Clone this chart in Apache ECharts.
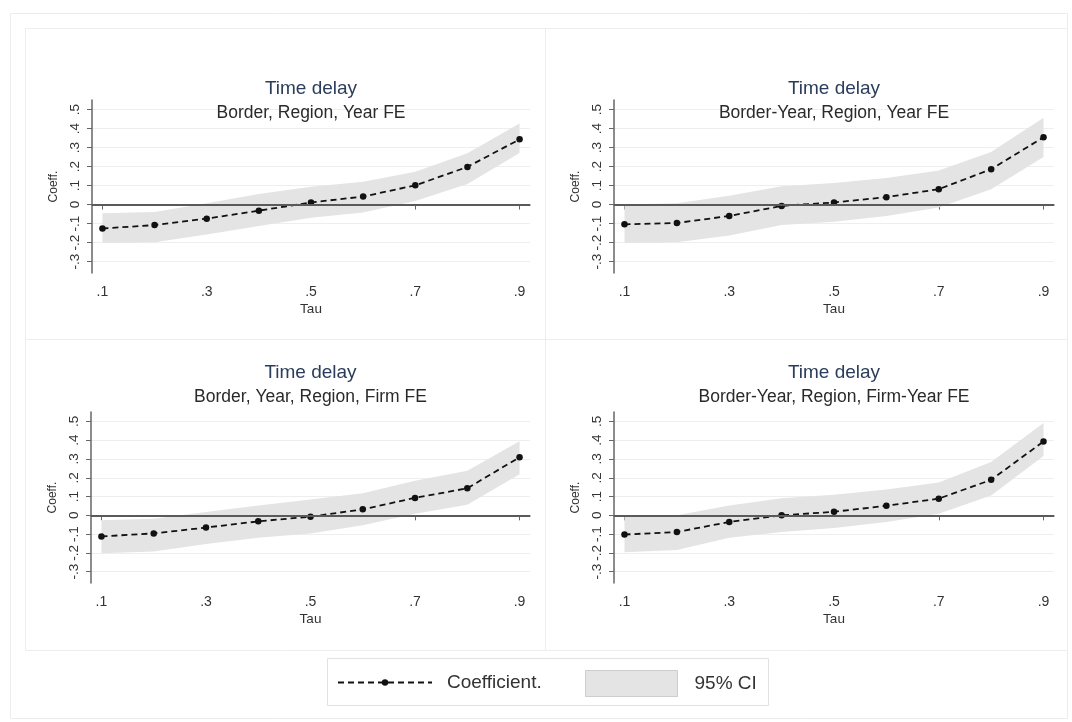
<!DOCTYPE html>
<html>
<head>
<meta charset="utf-8">
<script src="https://cdn.jsdelivr.net/npm/echarts@6/dist/echarts.min.js"></script>
<style>
  html, body { margin: 0; padding: 0; background: #fff; }
  #main { width: 1072px; height: 722px; }
</style>
</head>
<body>
<div id="main"></div>
<script>
// quantiles
var tau = [0.1, 0.2, 0.3, 0.4, 0.5, 0.6, 0.7, 0.8, 0.9];
var xTicks = [0.1, 0.3, 0.5, 0.7, 0.9];
var yTicks = [-0.3, -0.2, -0.1, 0, 0.1, 0.2, 0.3, 0.4, 0.5];

var titles = ['Time delay', 'Time delay', 'Time delay', 'Time delay'];
var subtitles = [
  'Border, Region, Year FE',
  'Border-Year, Region, Year FE',
  'Border, Year, Region, Firm FE',
  'Border-Year, Region, Firm-Year FE'
];

// coefficients and 95% CI per panel
var coef1 = [-0.126, -0.108, -0.074, -0.032, 0.011, 0.042, 0.101, 0.198, 0.343];
var lo1 = [-0.202, -0.198, -0.158, -0.113, -0.069, -0.042, 0.019, 0.108, 0.271];
var hi1 = [-0.046, -0.039, 0.007, 0.055, 0.094, 0.120, 0.173, 0.270, 0.427];

var coef2 = [-0.104, -0.097, -0.060, -0.007, 0.011, 0.039, 0.081, 0.186, 0.354];
var lo2 = [-0.202, -0.198, -0.163, -0.108, -0.090, -0.060, -0.016, 0.081, 0.250];
var hi2 = [0.000, 0.007, 0.046, 0.096, 0.113, 0.140, 0.179, 0.276, 0.457];

var coef3 = [-0.112, -0.096, -0.065, -0.032, -0.007, 0.032, 0.093, 0.144, 0.309];
var lo3 = [-0.202, -0.193, -0.153, -0.119, -0.096, -0.053, 0.009, 0.056, 0.219];
var hi3 = [-0.026, -0.018, 0.018, 0.053, 0.084, 0.118, 0.184, 0.237, 0.395];

var coef4 = [-0.102, -0.089, -0.035, 0.000, 0.019, 0.051, 0.089, 0.189, 0.393];
var lo4 = [-0.196, -0.184, -0.119, -0.088, -0.067, -0.035, 0.009, 0.105, 0.316];
var hi4 = [-0.009, 0.000, 0.053, 0.091, 0.109, 0.137, 0.175, 0.284, 0.491];

var coefs = [coef1, coef2, coef3, coef4];
var lows = [lo1, lo2, lo3, lo4];
var highs = [hi1, hi2, hi3, hi4];

var FONT = 'Liberation Sans, Arial, sans-serif';
var BAND = '#e4e4e4';

// panel layout
var grids = [
  { left: 92, top: 100, width: 438, height: 173 },
  { left: 614, top: 100, width: 440, height: 173 },
  { left: 91, top: 412, width: 439, height: 171 },
  { left: 614, top: 412, width: 440, height: 171 }
];
var titleTops = [79, 79, 363, 363];

function fmt(v) {
  if (v === 0) return '0';
  return String(Math.round(v * 10) / 10).replace('0.', '.');
}

// CI band drawn as one polygon through the axis scales
function renderBand(params, api) {
  if (params.dataIndexInside !== 0) return null;
  var n = params.dataInsideLength;
  var upper = [], lower = [];
  for (var j = 0; j < n; j++) {
    upper.push(api.coord([api.value(0, j), api.value(2, j)]));
    lower.push(api.coord([api.value(0, j), api.value(1, j)]));
  }
  return {
    type: 'polygon',
    shape: { points: upper.concat(lower.reverse()) },
    style: { fill: BAND, stroke: null }
  };
}

var chart = echarts.init(document.getElementById('main'));

var title = [], xAxis = [], yAxis = [], series = [];
for (var i = 0; i < 4; i++) {
  var g = grids[i];
  title.push({
    text: titles[i],
    subtext: subtitles[i],
    left: g.left + g.width / 2,
    top: titleTops[i],
    textAlign: 'center',
    itemGap: 6,
    padding: 0,
    textStyle: { fontFamily: FONT, fontSize: 19, fontWeight: 'normal', color: '#2b3d5a' },
    subtextStyle: { fontFamily: FONT, fontSize: 17.5, color: '#2a2a2a' }
  });
  xAxis.push({
    type: 'value',
    gridIndex: i,
    min: 0.08,
    max: 0.92,
    name: 'Tau',
    nameLocation: 'middle',
    nameGap: 29,
    nameTextStyle: { fontFamily: FONT, fontSize: 13.5, color: '#333' },
    axisLine: { show: true, lineStyle: { color: '#666', width: 1.5 } },
    axisTick: { show: true, length: 5, customValues: xTicks, lineStyle: { color: '#666' } },
    axisLabel: { customValues: xTicks, formatter: fmt, margin: 12, fontFamily: FONT, fontSize: 14, color: '#333' },
    splitLine: { show: false }
  });
  yAxis.push({
    type: 'value',
    gridIndex: i,
    min: -0.36,
    max: 0.55,
    name: 'Coeff.',
    nameLocation: 'middle',
    nameRotate: 90,
    nameGap: 32,
    nameTextStyle: { fontFamily: FONT, fontSize: 12, color: '#333' },
    axisLine: { show: true, lineStyle: { color: '#666', width: 1.5 } },
    axisTick: { show: true, length: 5, customValues: yTicks, lineStyle: { color: '#666' } },
    axisLabel: { customValues: yTicks, formatter: fmt, rotate: 90, margin: 10, fontFamily: FONT, fontSize: 13.5, color: '#333' },
    splitLine: { show: true, lineStyle: { color: '#eeeeee', width: 1 } }
  });

  var band = [], pts = [];
  for (var k = 0; k < tau.length; k++) {
    band.push([tau[k], lows[i][k], highs[i][k]]);
    pts.push([tau[k], coefs[i][k]]);
  }
  series.push({
    name: '95% CI',
    type: 'custom',
    xAxisIndex: i, yAxisIndex: i,
    renderItem: renderBand,
    encode: { x: 0, y: [1, 2] },
    data: band,
    silent: true,
    itemStyle: { color: BAND },
    z: 1
  });
  series.push({
    name: 'Coefficient.',
    type: 'line',
    xAxisIndex: i, yAxisIndex: i,
    data: pts,
    symbol: 'circle',
    symbolSize: 6.5,
    itemStyle: { color: '#111' },
    lineStyle: { color: '#111', width: 1.8, type: [6, 4] },
    markLine: {
      silent: true,
      symbol: 'none',
      label: { show: false },
      lineStyle: { color: '#5a5a5a', width: 2, type: 'solid' },
      data: [{ yAxis: 0 }]
    },
    z: 3
  });
}

chart.setOption({
  backgroundColor: '#fff',
  animation: false,
  title: title,
  grid: grids,
  xAxis: xAxis,
  yAxis: yAxis,
  legend: [{
    data: ['Coefficient.'],
    left: 337,
    top: 673,
    padding: 0,
    itemWidth: 94,
    itemHeight: 8,
    selectedMode: false,
    textStyle: { fontFamily: FONT, fontSize: 19, color: '#333', padding: [0, 0, 0, 10] }
  }, {
    data: [{ name: '95% CI', icon: 'rect', itemStyle: { color: BAND, borderColor: '#cdcdcd', borderWidth: 1 } }],
    left: 585,
    top: 670,
    padding: 0,
    itemWidth: 92,
    itemHeight: 26,
    selectedMode: false,
    textStyle: { fontFamily: FONT, fontSize: 19, color: '#333', padding: [0, 0, 0, 12] }
  }],
  graphic: [
    { type: 'rect', z: -10, silent: true, shape: { x: 10.5, y: 13.5, width: 1057, height: 705 }, style: { fill: 'none', stroke: '#ececec' } },
    { type: 'rect', z: -10, silent: true, shape: { x: 25.5, y: 28.5, width: 520, height: 311 }, style: { fill: 'none', stroke: '#ededed' } },
    { type: 'rect', z: -10, silent: true, shape: { x: 545.5, y: 28.5, width: 522, height: 311 }, style: { fill: 'none', stroke: '#ededed' } },
    { type: 'rect', z: -10, silent: true, shape: { x: 25.5, y: 339.5, width: 520, height: 311 }, style: { fill: 'none', stroke: '#ededed' } },
    { type: 'rect', z: -10, silent: true, shape: { x: 545.5, y: 339.5, width: 522, height: 311 }, style: { fill: 'none', stroke: '#ededed' } },
    { type: 'rect', z: -10, silent: true, shape: { x: 327.5, y: 658.5, width: 441, height: 47 }, style: { fill: '#fff', stroke: '#e2e2e2' } }
  ],
  series: series
});
</script>
</body>
</html>
